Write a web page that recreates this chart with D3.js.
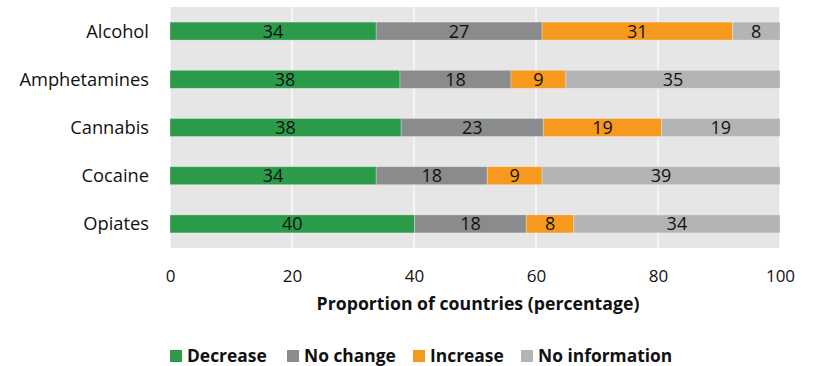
<!DOCTYPE html>
<html>
  <head>
    <meta charset="utf-8">
    <style>
      body { margin: 0; background: #fff; }
      text { font-family: "Open Sans", Lato, sans-serif; fill: #111; }
    </style>
    <script src="https://cdn.jsdelivr.net/npm/d3@7"></script>
  </head>
  <body>
    <script>
      // data (percent of countries)
      const drugs = ['Alcohol', 'Amphetamines', 'Cannabis', 'Cocaine', 'Opiates'];
      const seriesNames = ['Decrease', 'No change', 'Increase', 'No information'];
      const decrease = [33.8, 37.7, 37.9, 33.8, 40.1];
      const noChange = [27.2, 18.2, 23.3, 18.2, 18.3];
      const increase = [31.2, 9.0, 19.4, 9.0, 7.8];
      const noInfo = [7.8, 35.1, 19.4, 39.0, 33.8];
      const xTicks = [0, 20, 40, 60, 80, 100];
      const colors = ['#2b9b4a', '#8a8b8c', '#f7991f', '#b3b5b5'];

      const width = 816, height = 366;
      const margin = { top: 7, right: 36, bottom: 118, left: 170 };

      const rows = drugs.map((d, i) => ({
        drug: d,
        'Decrease': decrease[i],
        'No change': noChange[i],
        'Increase': increase[i],
        'No information': noInfo[i]
      }));
      const stacked = d3.stack().keys(seriesNames)(rows);

      const svg = d3.select('body').append('svg')
        .attr('width', width)
        .attr('height', height);

      const x = d3.scaleLinear().domain([0, 100])
        .range([margin.left, width - margin.right]);
      const y = d3.scaleBand().domain(drugs)
        .range([margin.top, height - margin.bottom])
        .paddingInner(0.627).paddingOuter(0.3135);

      // plot background
      svg.append('rect')
        .attr('x', x(0)).attr('y', margin.top)
        .attr('width', x(100) - x(0))
        .attr('height', height - margin.bottom - margin.top)
        .attr('fill', '#e6e6e6');

      // gridlines
      svg.append('g').selectAll('line')
        .data(xTicks)
        .join('line')
        .attr('x1', d => x(d)).attr('x2', d => x(d))
        .attr('y1', margin.top).attr('y2', height - margin.bottom)
        .attr('stroke', '#fff').attr('stroke-width', 1.2);

      // bars
      const layer = svg.append('g').selectAll('g')
        .data(stacked)
        .join('g')
        .attr('fill', (d, i) => colors[i]);

      layer.selectAll('rect')
        .data(d => d)
        .join('rect')
        .attr('x', d => x(d[0]))
        .attr('y', d => y(d.data.drug))
        .attr('width', d => x(d[1]) - x(d[0]))
        .attr('height', y.bandwidth())
        .attr('stroke', 'rgba(255,255,255,0.35)')
        .attr('stroke-width', 0.8);

      layer.selectAll('text')
        .data(d => d)
        .join('text')
        .attr('x', d => (x(d[0]) + x(d[1])) / 2)
        .attr('y', d => y(d.data.drug) + y.bandwidth() / 2)
        .attr('dy', '0.36em')
        .attr('text-anchor', 'middle')
        .style('font-size', '18px')
        .text(d => d3.format('.0f')(d[1] - d[0]));

      // category labels
      svg.append('g').selectAll('text')
        .data(drugs)
        .join('text')
        .attr('x', 149)
        .attr('y', d => y(d) + y.bandwidth() / 2)
        .attr('dy', '0.36em')
        .attr('text-anchor', 'end')
        .style('font-size', '18.3px')
        .text(d => d);

      // x axis
      const xAxis = svg.append('g')
        .attr('transform', `translate(0,${height - margin.bottom})`)
        .call(d3.axisBottom(x).tickValues(xTicks).tickSize(0).tickPadding(22));
      xAxis.select('.domain').remove();
      xAxis.selectAll('text')
        .style('font-size', '17px')
        .style('font-family', '"Open Sans", sans-serif')
        .attr('fill', '#111');

      svg.append('text')
        .attr('x', (x(0) + x(100)) / 2 + 3)
        .attr('y', 310)
        .attr('text-anchor', 'middle')
        .style('font-size', '17.7px')
        .style('font-weight', 'bold')
        .text('Proportion of countries (percentage)');

      // legend
      const legendX = [170, 287, 413, 521];
      const legend = svg.append('g').selectAll('g')
        .data(seriesNames)
        .join('g')
        .attr('transform', (d, i) => `translate(${legendX[i]},350)`);
      legend.append('rect')
        .attr('width', 12).attr('height', 12)
        .attr('fill', (d, i) => colors[i]);
      legend.append('text')
        .attr('x', 17).attr('y', 12)
        .style('font-size', '17.4px')
        .style('font-weight', 'bold')
        .text(d => d);
    </script>
  </body>
</html>
